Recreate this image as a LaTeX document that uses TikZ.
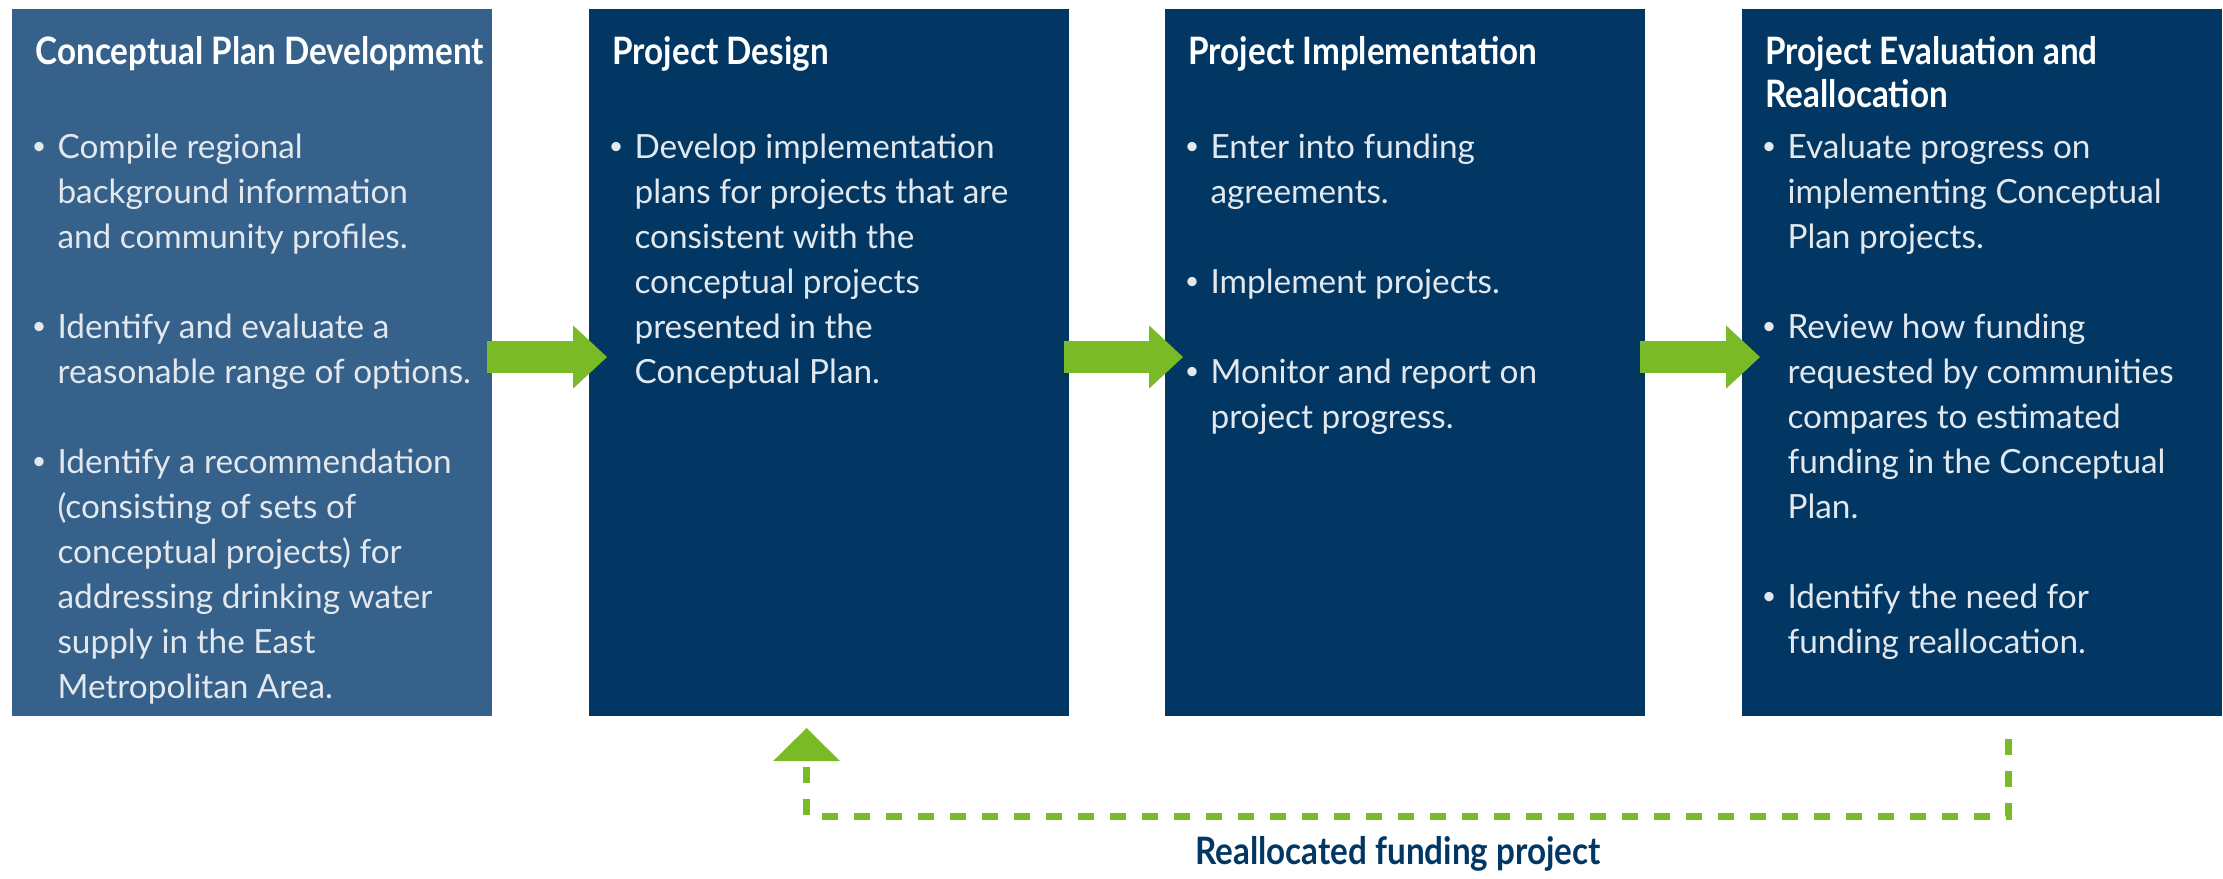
\documentclass[tikz,border=0pt]{standalone}
\usepackage{fontspec}
\setmainfont{Lato}
\newfontfamily\headfont{Lato}[FakeStretch=0.88]
\usetikzlibrary{arrows.meta}

\definecolor{planblue}{HTML}{35618A}
\definecolor{navy}{HTML}{023763}
\definecolor{fgreen}{HTML}{7BBA27}
\definecolor{bodytext}{HTML}{E2E8EE}

\newcommand{\bul}{\leavevmode\llap{\raisebox{0.2ex}{\scalebox{0.75}{\textbullet}}\hspace{4pt}}}
\newcommand{\gap}{16.2pt}

\tikzset{
  stage/.style={anchor=north west, inner sep=0pt, minimum width=172.8pt, minimum height=254.5pt, fill=navy},
  stagehead/.style={anchor=base west, inner sep=0pt, text=white, font=\headfont\fontsize{13.6}{15.8}\selectfont\bfseries},
  stagetext/.style={anchor=base west, inner sep=0pt, text=bodytext, font=\fontsize{12}{16.2}\selectfont},
  flow/.style={draw=fgreen, line width=11.52pt, -{Triangle[width=22.7pt,length=12.2pt,line width=0pt]}},
  fback/.style={draw=fgreen, line width=2.52pt, dash pattern=on 5.76pt off 5.76pt, -{Triangle[width=24.1pt,length=11.9pt,line width=0pt]}}
}

\begin{document}
\begin{tikzpicture}[x=0.36pt, y=-0.36pt]
  \useasboundingbox (0,0) rectangle (2223,878);

  % the four stages
  \node[stage, fill=planblue] (plan) at (11,8) {};
  \node[stage] (design) at (588,8) {};
  \node[stage] (impl) at (1164,8) {};
  \node[stage] (eval) at (1741,8) {};

  \node[stagehead] (planhead) at ([shift={(24,56)}]plan.north west) {\parbox[t]{200pt}{\raggedright Conceptual Plan Development}};
  \node[stagehead] (designhead) at ([shift={(24,56)}]design.north west) {\parbox[t]{200pt}{\raggedright Project Design}};
  \node[stagehead] (implhead) at ([shift={(24,56)}]impl.north west) {\parbox[t]{200pt}{\raggedright Project Implementation}};
  \node[stagehead] (evalhead) at ([shift={(24,56)}]eval.north west) {\parbox[t]{200pt}{\raggedright Project Evaluation and\\ Reallocation}};

  \node[stagetext] (plantxt) at ([shift={(46,150)}]plan.north west) {\parbox[t]{220pt}{\raggedright
    \bul Compile regional\\ background information\\ and community profiles.\\[\gap]
    \bul Identify and evaluate a\\ reasonable range of options.\\[\gap]
    \bul Identify a recommendation\\ (consisting of sets of\\ conceptual projects) for\\ addressing drinking water\\ supply in the East\\ Metropolitan Area.}};
  \node[stagetext] (designtxt) at ([shift={(46,150)}]design.north west) {\parbox[t]{220pt}{\raggedright
    \bul Develop implementation\\ plans for projects that are\\ consistent with the\\ conceptual projects\\ presented in the\\ Conceptual Plan.}};
  \node[stagetext] (impltxt) at ([shift={(46,150)}]impl.north west) {\parbox[t]{220pt}{\raggedright
    \bul Enter into funding\\ agreements.\\[\gap]
    \bul Implement projects.\\[\gap]
    \bul Monitor and report on\\ project progress.}};
  \node[stagetext] (evaltxt) at ([shift={(46,150)}]eval.north west) {\parbox[t]{220pt}{\raggedright
    \bul Evaluate progress on\\ implementing Conceptual\\ Plan projects.\\[\gap]
    \bul Review how funding\\ requested by communities\\ compares to estimated\\ funding in the Conceptual\\ Plan.\\[\gap]
    \bul Identify the need for\\ funding reallocation.}};

  % green arrows between stages
  \draw[flow] ([shift={(-5,-5)}]plan.east) -- ([shift={(19,-5)}]design.west);
  \draw[flow] ([shift={(-5,-5)}]design.east) -- ([shift={(19,-5)}]impl.west);
  \draw[flow] ([shift={(-5,-5)}]impl.east) -- ([shift={(19,-5)}]eval.west);

  % feedback loop
  \coordinate (fbstart) at ([shift={(27,23)}]eval.south);
  \coordinate (fbend) at ([shift={(-22,12)}]design.south);
  \draw[fback] (fbstart) -- ++(0,77) -| (fbend);
  \node[anchor=base, inner sep=0pt, text=navy, font=\headfont\fontsize{13.6}{15}\selectfont\bfseries] (fblabel) at (1398,864) {Reallocated funding project};
\end{tikzpicture}
\end{document}
